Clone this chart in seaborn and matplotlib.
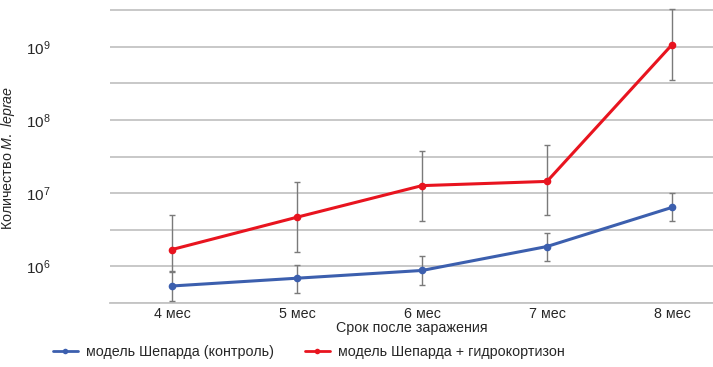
import numpy as np
import pandas as pd
import matplotlib
matplotlib.use("Agg")
import matplotlib.pyplot as plt
import matplotlib.ticker as mticker
from matplotlib.lines import Line2D
import seaborn as sns

categories = ["4 мес", "5 мес", "6 мес", "7 мес", "8 мес"]
series_names = ["модель Шепарда (контроль)", "модель Шепарда + гидрокортизон"]
control = [5.4e5, 6.9e5, 8.8e5, 1.87e6, 6.4e6]
control_lo = [3.4e5, 4.4e5, 5.6e5, 1.17e6, 4.2e6]
control_hi = [8.5e5, 1.06e6, 1.37e6, 2.9e6, 1.02e7]
hydro = [1.7e6, 4.7e6, 1.27e7, 1.45e7, 1.07e9]
hydro_lo = [8.7e5, 1.57e6, 4.2e6, 5.1e6, 3.5e8]
hydro_hi = [5.1e6, 1.43e7, 3.8e7, 4.6e7, 3.3e9]
xlabel = "Срок после заражения"
ylabel = "Количество $\\mathit{M.\\ leprae}$"

sns.set_style("white")
plt.rcParams["font.family"] = ["Liberation Sans", "DejaVu Sans"]
plt.rcParams["mathtext.fontset"] = "custom"
plt.rcParams["mathtext.rm"] = "Liberation Sans"
plt.rcParams["mathtext.it"] = "Liberation Sans:italic"

blue = "#3c5fae"
red = "#e8141f"
colors = [blue, red]

df = pd.DataFrame({
    "x": list(range(len(categories))) * 2,
    "value": control + hydro,
    "series": [series_names[0]] * 5 + [series_names[1]] * 5,
})

fig = plt.figure(figsize=(7.13, 3.67), dpi=100)
ax = fig.add_axes([110 / 713, 64 / 367, 603 / 713, 303 / 367])
ax.set_yscale("log")

# error bars
for vals, lo, hi in [(control, control_lo, control_hi), (hydro, hydro_lo, hydro_hi)]:
    v = np.array(vals)
    yerr = [v - np.array(lo), np.array(hi) - v]
    ax.errorbar(range(len(v)), v, yerr=yerr, fmt="none", ecolor="#7a7a7a",
                elinewidth=1.0, capsize=2.5, capthick=1.0, zorder=3)

sns.lineplot(data=df, x="x", y="value", hue="series", palette=colors,
             marker="o", markersize=5.5, markeredgewidth=0, linewidth=2.2,
             ax=ax, legend=False, zorder=4)

ax.set_xlim(-0.496, 4.328)
ax.set_ylim(10 ** 5.5, 10 ** 9.64)
ax.set_xticks(range(len(categories)))
ax.set_xticklabels(categories, fontsize=10.3)
ax.yaxis.set_major_locator(mticker.FixedLocator([1e6, 1e7, 1e8, 1e9]))
ax.yaxis.set_major_formatter(mticker.FixedFormatter(["$10^{6}$", "$10^{7}$", "$10^{8}$", "$10^{9}$"]))
ax.yaxis.set_minor_locator(mticker.FixedLocator([10 ** 5.5, 10 ** 6.5, 10 ** 7.5, 10 ** 8.5, 10 ** 9.5]))
ax.yaxis.set_minor_formatter(mticker.NullFormatter())
ax.tick_params(axis="y", which="both", length=0, pad=43, labelsize=11)
ax.tick_params(axis="x", length=0, pad=3)
ax.grid(True, axis="y", which="both", color="#c4c4c4", linewidth=1.3)
ax.set_axisbelow(True)
for s in ["top", "right", "left"]:
    ax.spines[s].set_visible(False)
ax.spines["bottom"].set_color("#c4c4c4")
ax.spines["bottom"].set_linewidth(1.3)

ax.set_xlabel(xlabel, fontsize=10.3, labelpad=0)
ax.set_ylabel(ylabel, fontsize=10.3)
ax.yaxis.set_label_coords(-0.155, 0.48)

handles = [Line2D([0], [0], color=c, marker="o", markersize=4, markeredgewidth=0, linewidth=2)
           for c in colors]
fig.legend(handles, series_names, loc="center left",
           bbox_to_anchor=(50 / 713, 1 - 352 / 367),
           ncol=2, frameon=False, fontsize=10.3, handlelength=1.75, columnspacing=2.1,
           handletextpad=0.6, borderaxespad=0.0, borderpad=0.2)

fig.savefig("out.png", dpi=100)
